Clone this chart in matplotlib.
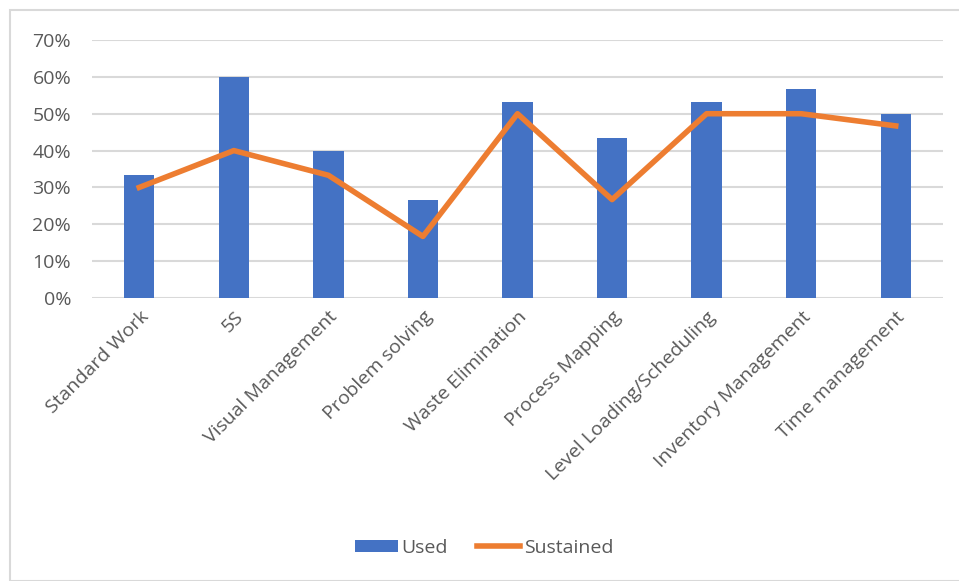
import matplotlib.pyplot as plt
from matplotlib.ticker import PercentFormatter
from matplotlib.patches import Rectangle

categories = ["Standard Work", "5S", "Visual Management", "Problem solving",
              "Waste Elimination", "Process Mapping", "Level Loading/Scheduling",
              "Inventory Management", "Time management"]
used = [0.333, 0.60, 0.40, 0.267, 0.533, 0.433, 0.533, 0.567, 0.50]
sustained = [0.30, 0.40, 0.333, 0.167, 0.50, 0.267, 0.50, 0.50, 0.467]

plt.rcParams['font.family'] = ['Open Sans', 'DejaVu Sans']
grey = '#595959'

fig = plt.figure(figsize=(9.59, 5.81), dpi=100)
ax = fig.add_axes([92/959, 1 - 298/581, (943-92)/959, (298-40)/581])

x = range(len(categories))
bars = ax.bar(x, used, width=0.32, color='#4472C4', label='Used', zorder=2)
line, = ax.plot(x, sustained, color='#ED7D31', lw=4, label='Sustained', zorder=3)

ax.set_xlim(-0.5, len(categories) - 0.5)
ax.set_ylim(0, 0.70)
ax.set_yticks([i / 10 for i in range(8)])
ax.yaxis.set_major_formatter(PercentFormatter(1.0, decimals=0))
ax.grid(axis='y', color='#D9D9D9', lw=1.5, zorder=0)
for s in ax.spines.values():
    s.set_visible(False)
ax.tick_params(length=0, colors=grey, labelsize=14)
ax.tick_params(axis='y', pad=15)
ax.tick_params(axis='x', pad=7)
ax.set_xticks(list(x))
ax.set_xticklabels(categories, rotation=45, ha='right', rotation_mode='anchor')

fig.legend([bars, line], ['Used', 'Sustained'], loc='center',
           bbox_to_anchor=(484/959, 1 - 548/581), ncol=2,
           frameon=False, fontsize=14, labelcolor=grey, handlelength=2.2,
           handleheight=0.6, handletextpad=0.2, columnspacing=1.5)

fig.patches.append(Rectangle((10/959, 0), 1, 1 - 10/581, transform=fig.transFigure,
                             fill=False, edgecolor='#D9D9D9', lw=1.5))

fig.savefig('out.png', dpi=100)
